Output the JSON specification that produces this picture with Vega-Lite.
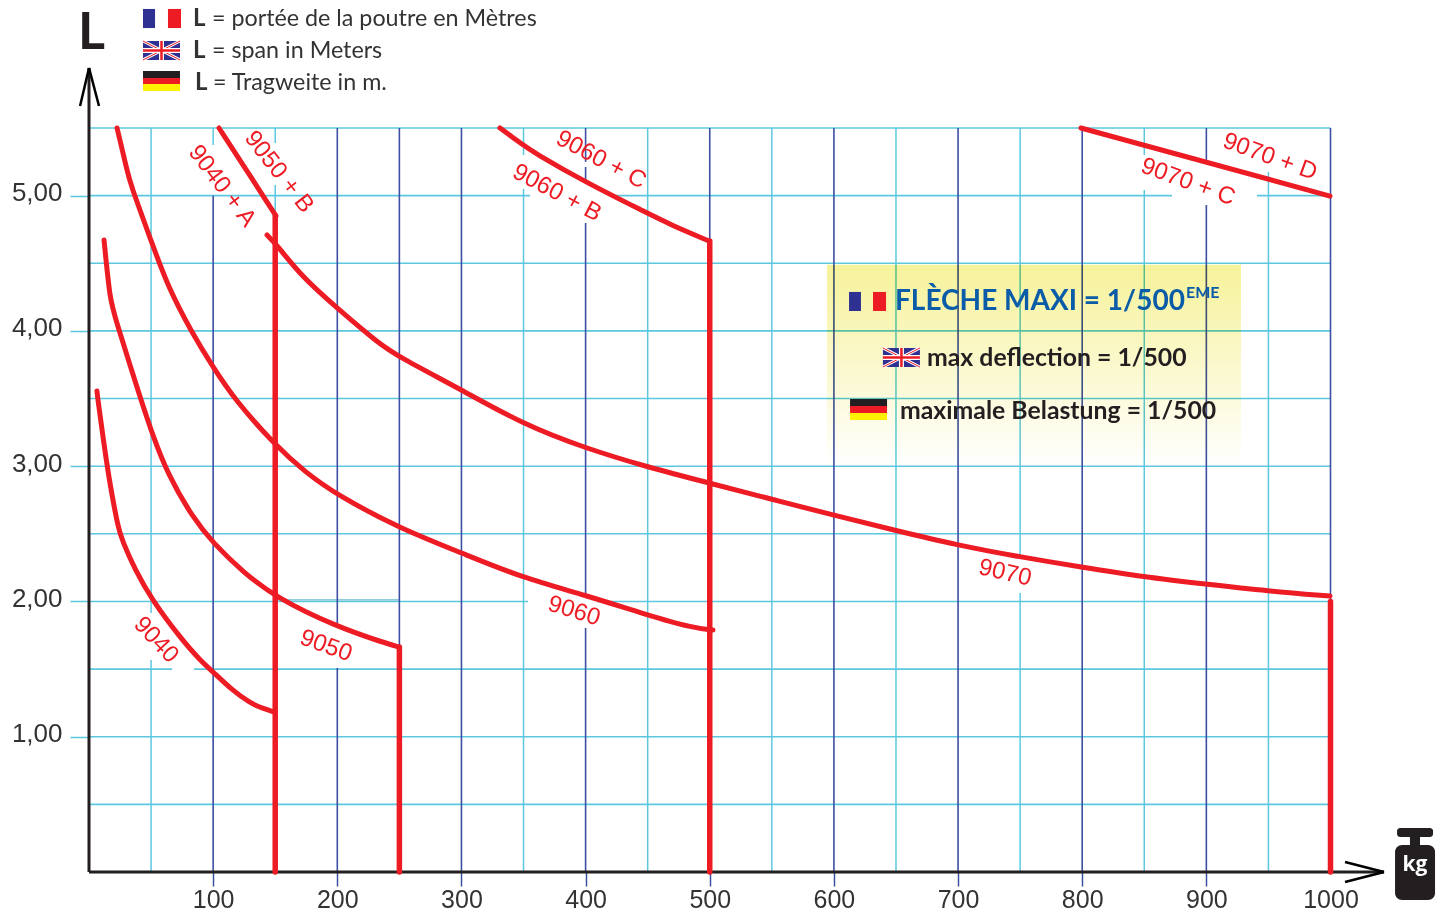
{
"$schema":"https://vega.github.io/schema/vega-lite/v6.json",
"width":1241.5,"height":744,
"autosize":{"type":"none"},
"padding":{"left":89,"top":128,"right":114.5,"bottom":41},
"background":"#ffffff",
"config":{"view":{"stroke":null}},
"datasets":{
"hgrid":[{"x":0,"x2":1000,"y":0.5},{"x":0,"x2":1000,"y":1},{"x":0,"x2":66.9,"y":1.5},{"x":84.6,"x2":1000,"y":1.5},{"x":0,"x2":353.6,"y":2},{"x":409.2,"x2":1000,"y":2},{"x":0,"x2":1000,"y":2.5},{"x":0,"x2":1000,"y":3},{"x":0,"x2":1000,"y":3.5},{"x":0,"x2":1000,"y":4},{"x":0,"x2":1000,"y":4.5},{"x":0,"x2":355.2,"y":5},{"x":419.7,"x2":872.3,"y":5},{"x":940.8,"x2":1000,"y":5},{"x":0,"x2":1000,"y":5.5}],
"vcyan":[{"x":50,"y":5.5,"y2":1.915},{"x":50,"y":1.567,"y2":0},{"x":100,"y":5.5,"y2":5.374},{"x":150,"y":5.5,"y2":5.389},{"x":150,"y":5.079,"y2":4.85},{"x":350,"y":5.5,"y2":5.3},{"x":350,"y":5.049,"y2":0},{"x":450,"y":5.5,"y2":0},{"x":550,"y":5.5,"y2":0},{"x":650,"y":5.5,"y2":0},{"x":750,"y":5.5,"y2":2.321},{"x":750,"y":2.063,"y2":0},{"x":850,"y":5.5,"y2":5.3},{"x":850,"y":5.042,"y2":0},{"x":950,"y":5.175,"y2":0}],
"vblue":[{"x":100,"y":5,"y2":0},{"x":200,"y":5.5,"y2":1.826},{"x":200,"y":1.508,"y2":0},{"x":250,"y":5.5,"y2":1.66},{"x":300,"y":5.5,"y2":0},{"x":400,"y":5.5,"y2":5.249},{"x":400,"y":5.212,"y2":5.101},{"x":400,"y":4.798,"y2":2.026},{"x":400,"y":1.804,"y2":0},{"x":500,"y":5.5,"y2":0},{"x":600,"y":5.5,"y2":0},{"x":700,"y":5.5,"y2":0},{"x":800,"y":5.5,"y2":0},{"x":900,"y":5.5,"y2":5.264},{"x":900,"y":4.931,"y2":0},{"x":1000,"y":5.5,"y2":2}],
"curves":[
{"s":"9040","x":6.4,"y":3.556},{"s":"9040","x":7.2,"y":3.489},{"s":"9040","x":14.5,"y":3.001},{"s":"9040","x":18.5,"y":2.787},{"s":"9040","x":23.4,"y":2.55},{"s":"9040","x":26.6,"y":2.454},{"s":"9040","x":37.1,"y":2.233},{"s":"9040","x":50.7,"y":2.011},{"s":"9040","x":74.9,"y":1.715},{"s":"9040","x":89.4,"y":1.567},{"s":"9040","x":99.9,"y":1.479},{"s":"9040","x":115.2,"y":1.345},{"s":"9040","x":129.7,"y":1.249},{"s":"9040","x":139.3,"y":1.212},{"s":"9040","x":149,"y":1.183},
{"s":"9050","x":12.1,"y":4.672},{"s":"9050","x":16.9,"y":4.229},{"s":"9050","x":20.9,"y":4.103},{"s":"9050","x":41.1,"y":3.511},{"s":"9050","x":50.7,"y":3.245},{"s":"9050","x":63.6,"y":2.935},{"s":"9050","x":83.8,"y":2.617},{"s":"9050","x":99.9,"y":2.432},{"s":"9050","x":124,"y":2.218},{"s":"9050","x":149.8,"y":2.033},{"s":"9050","x":199.8,"y":1.811},{"s":"9050","x":238.4,"y":1.693},{"s":"9050","x":249.7,"y":1.663},
{"s":"9060","x":22.6,"y":5.5},{"s":"9060","x":30.6,"y":5.19},{"s":"9060","x":33,"y":5.094},{"s":"9060","x":50.7,"y":4.65},{"s":"9060","x":63.6,"y":4.325},{"s":"9060","x":83,"y":3.985},{"s":"9060","x":99.9,"y":3.733},{"s":"9060","x":117.6,"y":3.489},{"s":"9060","x":149.8,"y":3.157},{"s":"9060","x":174,"y":2.957},{"s":"9060","x":199.8,"y":2.787},{"s":"9060","x":249.7,"y":2.543},{"s":"9060","x":300.4,"y":2.358},{"s":"9060","x":349.6,"y":2.173},{"s":"9060","x":399.5,"y":2.048},{"s":"9060","x":449.5,"y":1.9},{"s":"9060","x":486.5,"y":1.804},{"s":"9060","x":502.6,"y":1.789},
{"s":"9070","x":143.4,"y":4.709},{"s":"9070","x":151.4,"y":4.635},{"s":"9070","x":171.6,"y":4.399},{"s":"9070","x":199.8,"y":4.169},{"s":"9070","x":232.8,"y":3.911},{"s":"9070","x":249.7,"y":3.807},{"s":"9070","x":300.4,"y":3.563},{"s":"9070","x":349.6,"y":3.31},{"s":"9070","x":399.5,"y":3.134},{"s":"9070","x":449.5,"y":2.994},{"s":"9070","x":499.4,"y":2.876},{"s":"9070","x":549.3,"y":2.757},{"s":"9070","x":599.3,"y":2.639},{"s":"9070","x":649.2,"y":2.526},{"s":"9070","x":699.2,"y":2.417},{"s":"9070","x":749.9,"y":2.329},{"s":"9070","x":799,"y":2.255},{"s":"9070","x":849.8,"y":2.181},{"s":"9070","x":898.9,"y":2.129},{"s":"9070","x":949.7,"y":2.077},{"s":"9070","x":999.6,"y":2.04},
{"s":"9050+B","x":104.7,"y":5.5},{"s":"9050+B","x":123.2,"y":5.241},{"s":"9050+B","x":150.6,"y":4.85},
{"s":"9060+C","x":331,"y":5.5},{"s":"9060+C","x":349.6,"y":5.374},{"s":"9060+C","x":357.6,"y":5.323},{"s":"9060+C","x":399.5,"y":5.101},{"s":"9060+C","x":449.5,"y":4.872},{"s":"9060+C","x":470.4,"y":4.776},{"s":"9060+C","x":499.4,"y":4.665},
{"s":"9070+D","x":799,"y":5.5},{"s":"9070+D","x":999.6,"y":4.997}
],
"verticals":[{"x":150,"y":4.85,"y2":0},{"x":250,"y":1.663,"y2":0},{"x":500,"y":4.665,"y2":0},{"x":1000,"y":2,"y2":0}],
"stripes":[
{"part":"blue","x":43.5,"x2":53.2,"y":6.38,"y2":6.239},{"part":"red","x":63.6,"x2":74.1,"y":6.38,"y2":6.239},
{"part":"black","x":43.5,"x2":73.3,"y":5.921,"y2":5.87},{"part":"red","x":43.5,"x2":73.3,"y":5.87,"y2":5.825},{"part":"yellow","x":43.5,"x2":73.3,"y":5.825,"y2":5.774},
{"part":"blue","x":612.2,"x2":621.8,"y":4.288,"y2":4.147},{"part":"red","x":631.5,"x2":642,"y":4.288,"y2":4.147},
{"part":"black","x":613,"x2":642.8,"y":3.497,"y2":3.445},{"part":"red","x":613,"x2":642.8,"y":3.445,"y2":3.393},{"part":"yellow","x":613,"x2":642.8,"y":3.393,"y2":3.341},
{"part":"blue","x":43.5,"x2":73.3,"y":6.143,"y2":6.003},{"part":"blue","x":639.5,"x2":669.3,"y":3.874,"y2":3.733}
],
"ukDiag":[{"x":43.5,"x2":73.3,"y":6.143,"y2":6.003},{"x":43.5,"x2":73.3,"y":6.003,"y2":6.143},{"x":639.5,"x2":669.3,"y":3.874,"y2":3.733},{"x":639.5,"x2":669.3,"y":3.733,"y2":3.874}],
"ukCross":[{"x":58.4,"x2":58.4,"y":6.143,"y2":6.003},{"x":43.5,"x2":73.3,"y":6.073,"y2":6.073},{"x":654.4,"x2":654.4,"y":3.874,"y2":3.733},{"x":639.5,"x2":669.3,"y":3.803,"y2":3.803}]
},
"encoding":{
"x":{"field":"x","type":"quantitative","title":null,"scale":{"domain":[0,1000],"nice":false,"zero":false},
"axis":{"values":[100,200,300,400,500,600,700,800,900,1000],"grid":false,"domain":false,"tickSize":14,"tickWidth":1.5,"tickColor":{"condition":{"test":"datum.value==1000","value":"transparent"},"value":"#3c50a3"},"labelExpr":"format(datum.value,'d')","labelFont":"Liberation Sans","labelFontSize":25,"labelColor":"#333333","labelPadding":1,"labelFlush":false,"labelOverlap":false}},
"y":{"field":"y","type":"quantitative","title":null,"scale":{"domain":[0,5.5],"nice":false,"zero":false},
"axis":{"values":[1,2,3,4,5],"grid":false,"domain":false,"tickSize":19,"tickWidth":1.5,"tickColor":"#5bc8df","labelExpr":"replace(format(datum.value,'.2f'),'.',',')","labelFont":"Liberation Sans","labelFontSize":26,"labelColor":"#333333","labelPadding":8,"labelOffset":-3,"labelFlush":false,"labelOverlap":false}}
},
"layer":[
{"data":{"name":"hgrid"},"mark":{"type":"rule","color":"#5bc8df","strokeWidth":1.6},"encoding":{"x2":{"field":"x2"}}},
{"data":{"values":[{"x":150,"x2":250,"y":2.012}]},"mark":{"type":"rule","color":"#6bbccf","strokeWidth":1.2},"encoding":{"x2":{"field":"x2"}}},
{"data":{"name":"vcyan"},"mark":{"type":"rule","color":"#5bc8df","strokeWidth":1.5},"encoding":{"y2":{"field":"y2"}}},
{"data":{"name":"vblue"},"mark":{"type":"rule","color":"#3c50a3","strokeWidth":1.6},"encoding":{"y2":{"field":"y2"}}},
{"data":{"values":[{"x":594.4,"x2":927.9,"y":4.49,"y2":3.0}]},"mark":{"type":"rect","blend":"multiply","color":{"gradient":"linear","x1":0,"y1":0,"x2":0,"y2":1,"stops":[{"offset":0,"color":"#f6f29a"},{"offset":1,"color":"#ffffff"}]}},"encoding":{"x2":{"field":"x2"},"y2":{"field":"y2"}}},
{"data":{"values":[{"x":0,"x2":1043.1,"y":0,"y2":0},{"x":0,"x2":0,"y":0,"y2":5.944}]},"mark":{"type":"rule","color":"#231f20","strokeWidth":3},"encoding":{"x2":{"field":"x2"},"y2":{"field":"y2"}}},
{"data":{"values":[{"x":-7.2,"x2":0,"y":5.663,"y2":5.944},{"x":8.05,"x2":0,"y":5.663,"y2":5.944},{"x":1011.7,"x2":1043.1,"y":0.074,"y2":0},{"x":1011.7,"x2":1043.1,"y":-0.074,"y2":0}]},"mark":{"type":"rule","color":"#000000","strokeWidth":2.5,"clip":false},"encoding":{"x2":{"field":"x2"},"y2":{"field":"y2"}}},
{"data":{"name":"verticals"},"mark":{"type":"rule","color":"#ed1c24","strokeWidth":5.5,"strokeCap":"round"},"encoding":{"y2":{"field":"y2"}}},
{"data":{"name":"curves"},"mark":{"type":"line","color":"#ed1c24","strokeWidth":5,"strokeCap":"round","interpolate":"basis"},"encoding":{"detail":{"field":"s"}}},
{"data":{"values":[{"x":107.1,"y":5.071,"t":"9040 + A"}]},"mark":{"type":"text","font":"Liberation Sans","fontSize":24,"color":"#ed1c24","angle":53},"encoding":{"text":{"field":"t"}}},
{"data":{"values":[{"x":153,"y":5.175,"t":"9050 + B"}]},"mark":{"type":"text","font":"Liberation Sans","fontSize":24,"color":"#ed1c24","angle":52},"encoding":{"text":{"field":"t"}}},
{"data":{"values":[{"x":412.4,"y":5.264,"t":"9060 + C"},{"x":377,"y":5.02,"t":"9060 + B"}]},"mark":{"type":"text","font":"Liberation Sans","fontSize":24,"color":"#ed1c24","angle":28},"encoding":{"text":{"field":"t"}}},
{"data":{"values":[{"x":951.3,"y":5.286,"t":"9070 + D"},{"x":885.2,"y":5.101,"t":"9070 + C"}]},"mark":{"type":"text","font":"Liberation Sans","fontSize":24,"color":"#ed1c24","angle":20},"encoding":{"text":{"field":"t"}}},
{"data":{"values":[{"x":54,"y":1.715,"t":"9040"}]},"mark":{"type":"text","font":"Liberation Sans","fontSize":24,"color":"#ed1c24","angle":47},"encoding":{"text":{"field":"t"}}},
{"data":{"values":[{"x":190.9,"y":1.671,"t":"9050"}]},"mark":{"type":"text","font":"Liberation Sans","fontSize":24,"color":"#ed1c24","angle":20},"encoding":{"text":{"field":"t"}}},
{"data":{"values":[{"x":390.7,"y":1.929,"t":"9060"}]},"mark":{"type":"text","font":"Liberation Sans","fontSize":24,"color":"#ed1c24","angle":17},"encoding":{"text":{"field":"t"}}},
{"data":{"values":[{"x":737.8,"y":2.21,"t":"9070"}]},"mark":{"type":"text","font":"Liberation Sans","fontSize":24,"color":"#ed1c24","angle":13},"encoding":{"text":{"field":"t"}}},
{"data":{"name":"stripes"},"mark":{"type":"rect"},"encoding":{"x2":{"field":"x2"},"y2":{"field":"y2"},"color":{"field":"part","type":"nominal","legend":null,"scale":{"domain":["blue","red","black","yellow"],"range":["#2e3192","#ed1c24","#231f20","#fff200"]}}}},
{"data":{"name":"ukDiag"},"mark":{"type":"rule","color":"#ffffff","strokeWidth":3},"encoding":{"x2":{"field":"x2"},"y2":{"field":"y2"}}},
{"data":{"name":"ukDiag"},"mark":{"type":"rule","color":"#ed1c24","strokeWidth":1},"encoding":{"x2":{"field":"x2"},"y2":{"field":"y2"}}},
{"data":{"name":"ukCross"},"mark":{"type":"rule","color":"#ffffff","strokeWidth":5},"encoding":{"x2":{"field":"x2"},"y2":{"field":"y2"}}},
{"data":{"name":"ukCross"},"mark":{"type":"rule","color":"#ed1c24","strokeWidth":2.5},"encoding":{"x2":{"field":"x2"},"y2":{"field":"y2"}}},
{"data":{"values":[{"x":2,"y":6.205,"t":"L"}]},"mark":{"type":"text","font":"Lato","fontWeight":"bold","fontSize":52,"color":"#231f20"},"encoding":{"text":{"field":"t"}}},
{"data":{"values":[{"x":83.8,"y":6.305,"t":"L"},{"x":83.8,"y":6.069,"t":"L"},{"x":85.4,"y":5.832,"t":"L"}]},"mark":{"type":"text","font":"Lato","fontWeight":"bold","fontSize":24,"color":"#333333","align":"left"},"encoding":{"text":{"field":"t"}}},
{"data":{"values":[{"x":99,"y":6.305,"t":"= portée de la poutre en Mètres"},{"x":99,"y":6.069,"t":"= span in Meters"},{"x":99.9,"y":5.832,"t":"= Tragweite in m."}]},"mark":{"type":"text","font":"Lato","fontSize":23.3,"color":"#333333","align":"left"},"encoding":{"text":{"field":"t"}}},
{"data":{"values":[{"x":649.2,"y":4.215,"t":"FLÈCHE MAXI = 1/500"}]},"mark":{"type":"text","font":"Lato","fontWeight":"bold","fontSize":28,"color":"#0a5ba8","align":"left"},"encoding":{"text":{"field":"t"}}},
{"data":{"values":[{"x":883.6,"y":4.28,"t":"EME"}]},"mark":{"type":"text","font":"Lato","fontWeight":"bold","fontSize":16,"color":"#0a5ba8","align":"left"},"encoding":{"text":{"field":"t"}}},
{"data":{"values":[{"x":675,"y":3.792,"t":"max deflection = 1/500"},{"x":653.2,"y":3.4,"t":"maximale Belastung = 1/500"}]},"mark":{"type":"text","font":"Lato","fontWeight":"bold","fontSize":24.8,"color":"#231f20","align":"left"},"encoding":{"text":{"field":"t"}}},
{"data":{"values":[{"x":1064,"x2":1072.1,"y":0.27,"y2":0.19}]},"mark":{"type":"rect","color":"#231f20"},"encoding":{"x2":{"field":"x2"},"y2":{"field":"y2"}}},
{"data":{"values":[{"x":1053.6,"x2":1082.6,"y":0.325,"y2":0.259}]},"mark":{"type":"rect","color":"#231f20","cornerRadius":3},"encoding":{"x2":{"field":"x2"},"y2":{"field":"y2"}}},
{"data":{"values":[{"x":1052,"x2":1084.2,"y":0.2,"y2":-0.207}]},"mark":{"type":"rect","color":"#231f20","cornerRadius":7},"encoding":{"x2":{"field":"x2"},"y2":{"field":"y2"}}},
{"data":{"values":[{"x":1068,"y":0.052,"t":"kg"}]},"mark":{"type":"text","font":"Open Sans","fontWeight":"bold","fontSize":21,"color":"#ffffff"},"encoding":{"text":{"field":"t"}}}
]
}
